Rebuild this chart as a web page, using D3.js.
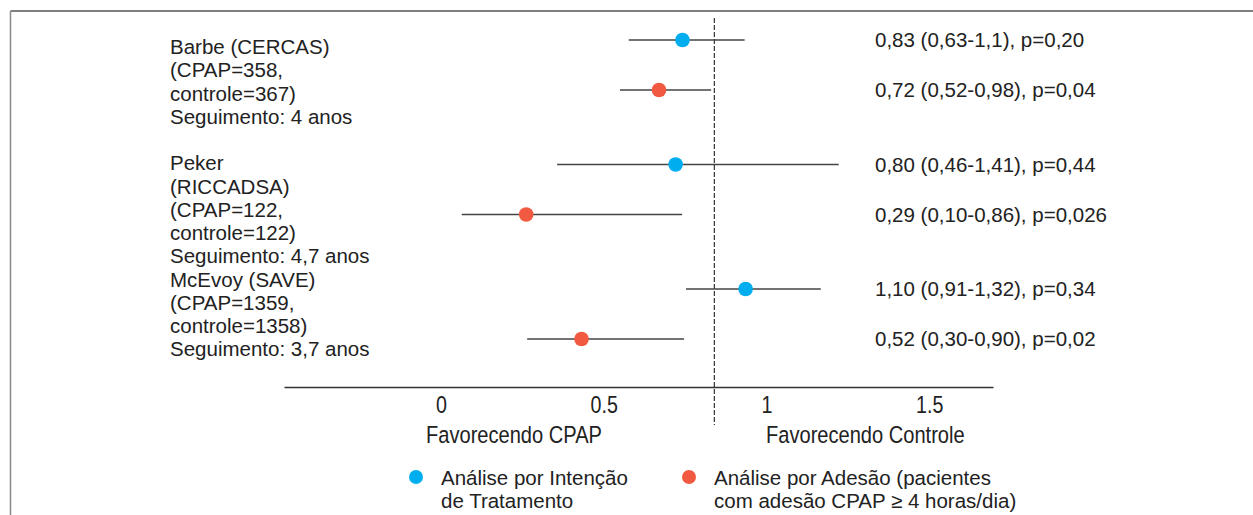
<!DOCTYPE html>
<html>
<head>
<meta charset="utf-8">
<script src="https://cdn.jsdelivr.net/npm/d3@7"></script>
<style>
  body { margin: 0; background: #fff; }
  text { font-family: "Liberation Sans", Arial, sans-serif; fill: #222; }
</style>
</head>
<body>
<div id="chart"></div>
<script>
// Data
const studies = ['Barbe (CERCAS)', 'Peker (RICCADSA)', 'McEvoy (SAVE)'];
const labelLines = [
  'Barbe (CERCAS)', '(CPAP=358,', 'controle=367)', 'Seguimento: 4 anos', '',
  'Peker', '(RICCADSA)', '(CPAP=122,', 'controle=122)', 'Seguimento: 4,7 anos',
  'McEvoy (SAVE)', '(CPAP=1359,', 'controle=1358)', 'Seguimento: 3,7 anos'
];
// intention-to-treat: point estimate and interval as drawn
const ittEst = [0.742, 0.721, 0.936];
const ittLow = [0.577, 0.357, 0.753];
const ittHigh = [0.933, 1.222, 1.167];
const ittText = ['0,83 (0,63-1,1), p=0,20', '0,80 (0,46-1,41), p=0,44', '1,10 (0,91-1,32), p=0,34'];
// adherence analysis
const adhEst = [0.670, 0.262, 0.432];
const adhLow = [0.550, 0.064, 0.265];
const adhHigh = [0.830, 0.741, 0.747];
const adhText = ['0,72 (0,52-0,98), p=0,04', '0,29 (0,10-0,86), p=0,026', '0,52 (0,30-0,90), p=0,02'];
const tickValues = [0, 0.5, 1, 1.5];
const refLine = 0.84;
const captions = ['Favorecendo CPAP', 'Favorecendo Controle'];
const legendLabels = [
  ['Análise por Intenção', 'de Tratamento'],
  ['Análise por Adesão (pacientes', 'com adesão CPAP ≥ 4 horas/dia)']
];

const colors = { itt: '#00aeef', adh: '#f15a40' };
const width = 1253, height = 515;
const narrow = 'scale(0.82,1)'; // condensed look for axis text
const fontSize = '20.5px';

const svg = d3.select('#chart')
  .append('svg')
  .attr('width', width)
  .attr('height', height);

// frame (top and left edges)
svg.append('line')
  .attr('x1', 10.5).attr('x2', width).attr('y1', 11).attr('y2', 11)
  .attr('stroke', '#555').attr('stroke-width', 1.5);
svg.append('line')
  .attr('x1', 10.5).attr('x2', 10.5).attr('y1', 11).attr('y2', height)
  .attr('stroke', '#888').attr('stroke-width', 1.5);

// scales
const x = d3.scaleLinear()
  .domain([-0.482, 1.696])
  .range([284, 993]);

const y = d3.scalePoint()
  .domain(studies)
  .range([65, 314]);

const rowOffset = 25;
const axisY = 387;

// x axis
const axis = svg.append('g')
  .attr('transform', `translate(0,${axisY})`)
  .call(d3.axisBottom(x).tickValues(tickValues).tickSize(0).tickPadding(9)
    .tickFormat(d3.format('')));
axis.select('.domain').attr('stroke', '#333').attr('stroke-width', 1.5);
axis.selectAll('text')
  .attr('fill', '#222')
  .attr('transform', narrow)
  .style('font-size', '24px');

// reference line
svg.append('line')
  .attr('x1', x(refLine)).attr('x2', x(refLine))
  .attr('y1', 18).attr('y2', 425)
  .attr('stroke', '#333').attr('stroke-width', 1.2)
  .attr('stroke-dasharray', '5,2');

// axis captions
const captionX = [426, 766];
captions.forEach((c, i) => {
  svg.append('g')
    .attr('transform', `translate(${captionX[i]},443)`)
    .append('text')
    .attr('transform', narrow)
    .style('font-size', '24.5px')
    .text(c);
});

// series
const series = [
  { key: 'itt', est: ittEst, low: ittLow, high: ittHigh, txt: ittText, off: -rowOffset },
  { key: 'adh', est: adhEst, low: adhLow, high: adhHigh, txt: adhText, off: rowOffset }
];

series.forEach(s => {
  const g = svg.append('g');
  const rows = studies.map((st, i) => ({ st, i }));

  g.selectAll('line.ci')
    .data(rows)
    .enter()
    .append('line')
    .attr('class', 'ci')
    .attr('x1', d => x(s.low[d.i]))
    .attr('x2', d => x(s.high[d.i]))
    .attr('y1', d => y(d.st) + s.off)
    .attr('y2', d => y(d.st) + s.off)
    .attr('stroke', '#444')
    .attr('stroke-width', 1.5);

  g.selectAll('circle')
    .data(rows)
    .enter()
    .append('circle')
    .attr('cx', d => x(s.est[d.i]))
    .attr('cy', d => y(d.st) + s.off)
    .attr('r', 7.3)
    .attr('fill', colors[s.key]);

  g.selectAll('text')
    .data(rows)
    .enter()
    .append('text')
    .attr('x', 875)
    .attr('y', d => y(d.st) + s.off)
    .attr('dy', '0.35em')
    .style('font-size', fontSize)
    .text(d => s.txt[d.i]);
});

// study labels
svg.append('g')
  .selectAll('text')
  .data(labelLines)
  .enter()
  .append('text')
  .attr('x', 170)
  .attr('y', (d, i) => 47 + i * 23.25)
  .attr('dy', '0.35em')
  .style('font-size', fontSize)
  .text(d => d);

// legend
const legend = svg.append('g');
const legendX = [416, 689];
['itt', 'adh'].forEach((k, i) => {
  legend.append('circle')
    .attr('cx', legendX[i]).attr('cy', 477)
    .attr('r', 7)
    .attr('fill', colors[k]);
  legendLabels[i].forEach((line, j) => {
    legend.append('text')
      .attr('x', legendX[i] + 25)
      .attr('y', 478 + j * 22.5)
      .attr('dy', '0.35em')
      .style('font-size', fontSize)
      .text(line);
  });
});
</script>
</body>
</html>
